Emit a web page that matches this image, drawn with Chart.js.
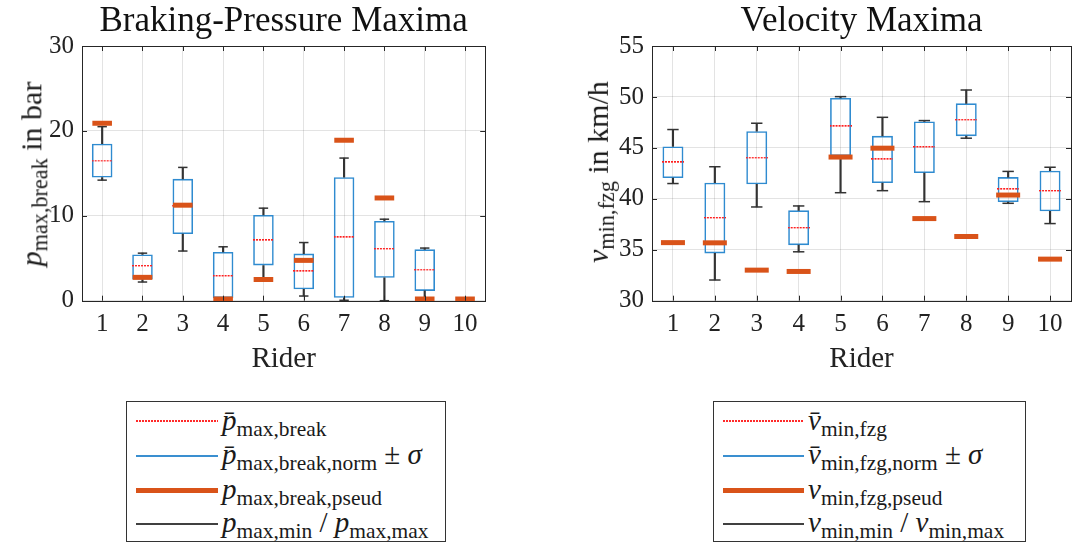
<!DOCTYPE html>
<html>
<head>
<meta charset="utf-8">
<script src="https://cdn.jsdelivr.net/npm/chart.js@4"></script>
<style>
  html, body { margin: 0; padding: 0; background: #fff; }
  body { width: 1083px; height: 544px; overflow: hidden; position: relative; font-family: "Liberation Serif", "Tinos", "Times New Roman", serif; color: #1a1a1a; }
  #c1 { position: absolute; left: 0; top: 0; }
  #c2 { position: absolute; left: 570px; top: 0; }
  .ylab { position: absolute; white-space: nowrap; font-size: 30px; line-height: 1; transform-origin: center center; }
  .ylab sub, .leg sub { font-size: 0.74em; vertical-align: -0.28em; line-height: 0; }
  .legbox { position: absolute; top: 401px; height: 141px; border: 1px solid #333; background: #fff; box-sizing: border-box; }
  .smp { position: absolute; }
  .dot { height: 2px; background-image: repeating-linear-gradient(to right, #ff2a2a 0 2px, transparent 2px 3px); }
  .leg { position: absolute; white-space: nowrap; font-size: 29px; line-height: 1; }
  i { font-style: italic; }
</style>
</head>
<body>
<canvas id="c1" width="500" height="380"></canvas>
<canvas id="c2" width="518" height="380"></canvas>

<div class="ylab" id="yl1"><i>p</i><sub>max,break</sub> in bar</div>
<div class="ylab" id="yl2"><i>v</i><sub>min,fzg</sub> in km/h</div>

<div class="legbox" style="left:126px;width:320px;">
  <div class="smp dot" style="left:9px;top:18px;width:82px;"></div>
  <div class="leg" style="left:95px;top:4px;"><i>p̄</i><sub>max,break</sub></div>
  <div class="smp" style="left:9px;top:53px;width:82px;height:2px;background:#3a8fd0;"></div>
  <div class="leg" style="left:95px;top:38px;"><i>p̄</i><sub>max,break,norm</sub>&nbsp;± <i>σ</i></div>
  <div class="smp" style="left:9px;top:86px;width:82px;height:5px;background:#d95319;"></div>
  <div class="leg" style="left:95px;top:73px;"><i>p</i><sub>max,break,pseud</sub></div>
  <div class="smp" style="left:9px;top:121px;width:82px;height:2px;background:#404040;"></div>
  <div class="leg" style="left:95px;top:106px;"><i>p</i><sub>max,min</sub>&nbsp;/&nbsp;<i>p</i><sub>max,max</sub></div>
</div>

<div class="legbox" style="left:713px;width:313px;">
  <div class="smp dot" style="left:9px;top:18px;width:81px;"></div>
  <div class="leg" style="left:94px;top:4px;"><i>v̄</i><sub>min,fzg</sub></div>
  <div class="smp" style="left:9px;top:53px;width:81px;height:2px;background:#3a8fd0;"></div>
  <div class="leg" style="left:94px;top:38px;"><i>v̄</i><sub>min,fzg,norm</sub>&nbsp;± <i>σ</i></div>
  <div class="smp" style="left:9px;top:86px;width:81px;height:5px;background:#d95319;"></div>
  <div class="leg" style="left:94px;top:73px;"><i>v</i><sub>min,fzg,pseud</sub></div>
  <div class="smp" style="left:9px;top:121px;width:81px;height:2px;background:#404040;"></div>
  <div class="leg" style="left:94px;top:106px;"><i>v</i><sub>min,min</sub>&nbsp;/&nbsp;<i>v</i><sub>min,max</sub></div>
</div>

<script>
// ---------- data ----------
const riders = ['1','2','3','4','5','6','7','8','9','10'];

// Braking-pressure maxima (bar)
const pMean    = [16.5, 4.1, 11.2, 2.9, 7.1, 3.45, 7.45, 6.1, 3.65, null];
const pBoxLow  = [14.5, 2.5, 7.85, 0.3, 4.15, 1.35, 0.35, 2.7, 1.15, null];
const pBoxHigh = [18.5, 5.45, 14.35, 5.75, 10.1, 5.55, 14.55, 9.4, 6.05, null];
const pMin     = [14.2, 2.2, 5.85, 0, 2.5, 0.55, 0.05, 0, 0.05, null];
const pMax     = [20.5, 5.6, 15.7, 6.35, 10.9, 6.85, 16.8, 9.6, 6.2, null];
const pPseud   = [20.9, 2.75, 11.25, 0.2, 2.5, 4.75, 18.9, 12.1, 0.2, 0.2];
const pTicks   = [0, 10, 20, 30];

// Velocity maxima (km/h)
const vMean    = [43.57, 38.12, 44.03, 37.14, 47.1, 43.86, 45.07, 47.75, 40.93, 40.77];
const vBoxLow  = [42.04, 34.64, 41.42, 35.45, 44.2, 41.55, 42.53, 46.15, 39.69, 38.78];
const vBoxHigh = [45.14, 41.58, 46.63, 38.87, 49.9, 46.18, 47.6, 49.37, 42.13, 42.76];
const vMin     = [41.5, 32.03, 39.2, 34.8, 40.6, 40.8, 39.72, 45.95, 39.56, 37.57];
const vMax     = [46.8, 43.15, 47.42, 39.3, 50.03, 48.0, 47.68, 50.68, 42.69, 43.1];
const vPseud   = [35.7, 35.68, 33.0, 32.87, 44.1, 44.97, 38.06, 36.3, 40.37, 34.08];
const vTicks   = [30, 35, 40, 45, 50, 55];

// ---------- styling ----------
const BLUE = '#2f8bd0', ORANGE = '#d95319', WHISK = '#333333', AXIS = '#262626';
const FONT = '"Liberation Serif", "Tinos", "Times New Roman", serif';

function dotted(w) {
  const c = document.createElement('canvas');
  c.width = w; c.height = 2;
  const g = c.getContext('2d');
  g.fillStyle = '#ff2020';
  for (let x = 0; x < w; x += 3) g.fillRect(x, 0, 2, 1.4);
  return c;
}

const framePlugin = {
  id: 'frame',
  afterDraw(chart) {
    const {ctx, chartArea: a, scales: {x, y}} = chart;
    ctx.save();
    ctx.strokeStyle = AXIS;
    ctx.lineWidth = 1;
    ctx.strokeRect(Math.round(a.left) + 0.5, Math.round(a.top) + 0.5, Math.round(a.right - a.left), Math.round(a.bottom - a.top));
    ctx.beginPath();
    const L = 5;
    x.ticks.forEach((t, i) => {
      const px = Math.round(x.getPixelForTick(i)) + 0.5;
      ctx.moveTo(px, a.bottom); ctx.lineTo(px, a.bottom - L);
      ctx.moveTo(px, a.top); ctx.lineTo(px, a.top + L);
    });
    y.ticks.forEach((t, i) => {
      const py = Math.round(y.getPixelForTick(i)) + 0.5;
      ctx.moveTo(a.left, py); ctx.lineTo(a.left + L, py);
      ctx.moveTo(a.right, py); ctx.lineTo(a.right - L, py);
    });
    ctx.stroke();
    ctx.restore();
  }
};

function makeChart(id, cfg) {
  const pair = (lo, hi) => lo.map((v, i) => (v == null || hi[i] == null) ? null : [v, hi[i]]);
  const datasets = [
    { type: 'line', label: 'pseud', data: cfg.pseud, showLine: false, pointStyle: 'line',
      pointRadius: cfg.pseudR, pointHoverRadius: cfg.pseudR, borderColor: ORANGE, backgroundColor: ORANGE,
      pointBorderWidth: 5, borderWidth: 5, order: 0, clip: false },
    { type: 'line', label: 'mean', data: cfg.mean, showLine: false, pointStyle: dotted(cfg.boxW),
      pointRadius: cfg.boxW / 2, borderColor: 'red', order: 1, clip: false },
    { type: 'line', label: 'capHi', data: cfg.max, showLine: false, pointStyle: 'line',
      pointRadius: cfg.capR, borderColor: WHISK, pointBorderWidth: 1.5, borderWidth: 1.5, order: 2, clip: false },
    { type: 'line', label: 'capLo', data: cfg.min, showLine: false, pointStyle: 'line',
      pointRadius: cfg.capR, borderColor: WHISK, pointBorderWidth: 1.5, borderWidth: 1.5, order: 2, clip: false },
    { type: 'bar', label: 'whiskHi', data: pair(cfg.boxHigh, cfg.max), backgroundColor: WHISK,
      borderWidth: 0, barThickness: 1.5, grouped: false, order: 3 },
    { type: 'bar', label: 'whiskLo', data: pair(cfg.min, cfg.boxLow), backgroundColor: WHISK,
      borderWidth: 0, barThickness: 1.5, grouped: false, order: 3 },
    { type: 'bar', label: 'box', data: pair(cfg.boxLow, cfg.boxHigh), backgroundColor: 'rgba(255,255,255,0)',
      borderColor: BLUE, borderWidth: 1.6, borderSkipped: false, grouped: false,
      barPercentage: cfg.barPct, categoryPercentage: 1, order: 4 }
  ];
  return new Chart(document.getElementById(id), {
    type: 'bar',
    data: { labels: riders, datasets },
    plugins: [framePlugin],
    options: {
      responsive: false,
      animation: false,
      devicePixelRatio: 1,
      layout: { padding: { left: 0, right: cfg.padRight, top: 0, bottom: 0 } },
      plugins: {
        legend: { display: false },
        tooltip: { enabled: false },
        title: { display: true, text: cfg.title, fullSize: false, color: '#111',
                 font: { family: FONT, size: 35, weight: 'normal' }, padding: { top: 1, bottom: 3 } }
      },
      scales: {
        x: {
          offset: true,
          grid: { offset: false, color: 'rgba(0,0,0,0.11)', drawTicks: false },
          border: { display: false },
          ticks: { color: '#222', padding: 9, font: { family: FONT, size: 25 } },
          title: { display: true, text: 'Rider', color: '#222', font: { family: FONT, size: 29 }, padding: { top: 0, bottom: 3 } },
          afterFit(s) { s.height = 79.3; }
        },
        y: {
          min: cfg.yMin, max: cfg.yMax,
          afterBuildTicks(s) { s.ticks = cfg.ticks.map(v => ({ value: v })); },
          grid: { color: 'rgba(0,0,0,0.11)', drawTicks: false },
          border: { display: false },
          ticks: { color: '#222', padding: 8, font: { family: FONT, size: 25 } },
          afterFit(s) { s.width = 82; }
        }
      }
    }
  });
}

makeChart('c1', {
  title: 'Braking-Pressure Maxima', mean: pMean, boxLow: pBoxLow, boxHigh: pBoxHigh,
  min: pMin, max: pMax, pseud: pPseud, ticks: pTicks, yMin: 0, yMax: 30,
  boxW: 21, barPct: 0.51, pseudR: 9.8, capR: 4.7, padRight: 12
});
makeChart('c2', {
  title: 'Velocity Maxima', mean: vMean, boxLow: vBoxLow, boxHigh: vBoxHigh,
  min: vMin, max: vMax, pseud: vPseud, ticks: vTicks, yMin: 30, yMax: 55,
  boxW: 22, barPct: 0.5, pseudR: 12, capR: 5.7, padRight: 0
});

// position rotated y-axis labels
function placeY(id, cx, cy) {
  const el = document.getElementById(id);
  const w = el.offsetWidth, h = el.offsetHeight;
  el.style.left = (cx - w / 2) + 'px';
  el.style.top = (cy - h / 2) + 'px';
  el.style.transform = 'rotate(-90deg)';
}
placeY('yl1', 31, 174);
placeY('yl2', 598, 172);
</script>
</body>
</html>
